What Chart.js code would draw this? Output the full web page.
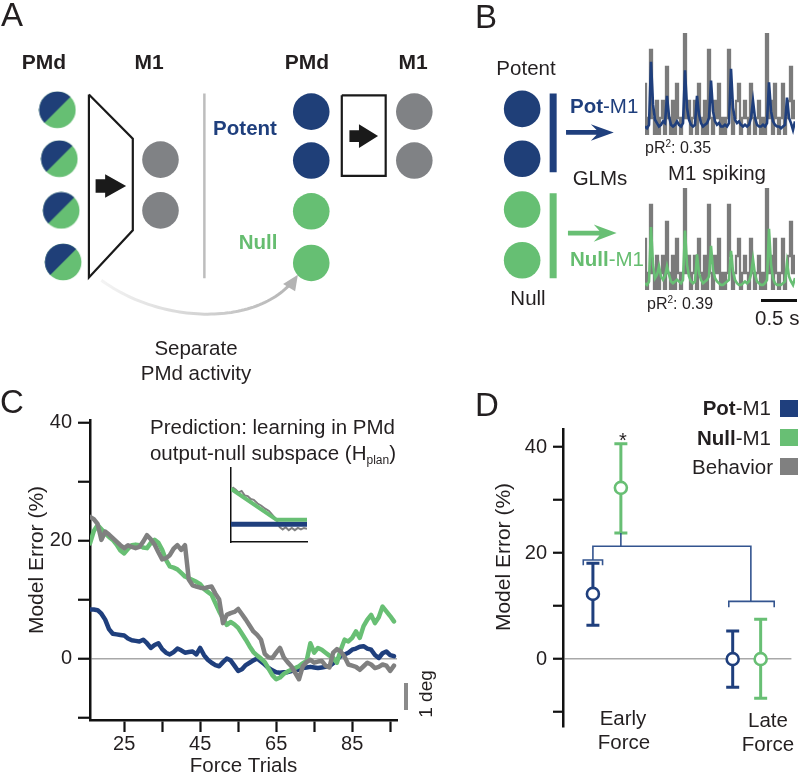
<!DOCTYPE html>
<html>
<head>
<meta charset="utf-8">
<title>PMd output-null learning</title>
<script src="https://cdn.jsdelivr.net/npm/chart.js@4.4.1/dist/chart.umd.min.js"></script>
<style>
html,body{margin:0;padding:0;background:#fff;}
#root{position:relative;width:800px;height:775px;overflow:hidden;font-family:'Liberation Sans',Arial,Helvetica,sans-serif;color:#231f20;}
canvas{position:absolute;}
.t{position:absolute;white-space:nowrap;line-height:1;font-size:20.5px;}
.c{transform:translate(-50%,-50%);}
.l{transform:translate(0,-50%);}
.r{transform:translate(-100%,-50%);}
.v{transform:translate(-50%,-50%) rotate(-90deg);}
.b{font-weight:bold;}
.blue{color:#1f3f7d;}
.green{color:#66bd70;}
.big{font-size:33px;}
.sm{font-size:16px;}
.sw{position:absolute;width:18px;height:17px;}
.bar{position:absolute;}
sub{font-size:12px;vertical-align:-4px;line-height:0;}
sup{font-size:10px;vertical-align:6px;line-height:0;}
</style>
</head>
<body>
<div id="root">
  <canvas id="diag" width="800" height="390" style="left:0;top:0;width:800px;height:390px"></canvas>
  <canvas id="traceTop" width="160" height="115" style="left:640px;top:25px;width:160px;height:115px"></canvas>
  <canvas id="traceBot" width="160" height="115" style="left:640px;top:180px;width:160px;height:115px"></canvas>
  <canvas id="chartC" width="400" height="385" style="left:0;top:390px;width:400px;height:385px"></canvas>
  <canvas id="insetC" width="86" height="88" style="left:226px;top:460px;width:86px;height:88px"></canvas>
  <canvas id="chartD" width="400" height="385" style="left:400px;top:390px;width:400px;height:385px"></canvas>

  <!-- Panel A -->
  <div class="t c big" style="left:12px;top:14px">A</div>
  <div class="t c b" style="left:44px;top:61px;font-size:21px">PMd</div>
  <div class="t c b" style="left:149px;top:61px;font-size:21px">M1</div>
  <div class="t c b" style="left:307px;top:61px;font-size:21px">PMd</div>
  <div class="t c b" style="left:413px;top:61px;font-size:21px">M1</div>
  <div class="t c b blue" style="left:245px;top:128px">Potent</div>
  <div class="t c b green" style="left:258px;top:242px">Null</div>
  <div class="t c" style="left:196px;top:348px">Separate</div>
  <div class="t c" style="left:196px;top:373px">PMd activity</div>

  <!-- Panel B -->
  <div class="t c big" style="left:486px;top:16px">B</div>
  <div class="t c" style="left:526px;top:68px">Potent</div>
  <div class="t l blue" style="left:570px;top:106px"><b>Pot</b>-M1</div>
  <div class="t c" style="left:600px;top:178px">GLMs</div>
  <div class="t c" style="left:717px;top:173px">M1 spiking</div>
  <div class="t l green" style="left:570px;top:259px"><b>Null</b>-M1</div>
  <div class="t c" style="left:528px;top:298px">Null</div>
  <div class="t l sm" style="left:645px;top:148px">pR<sup>2</sup>: 0.35</div>
  <div class="t l sm" style="left:647px;top:304px">pR<sup>2</sup>: 0.39</div>
  <div class="bar" style="left:761px;top:299px;width:36px;height:3px;background:#111"></div>
  <div class="t l" style="left:755px;top:318px">0.5 s</div>

  <!-- Panel C -->
  <div class="t c big" style="left:12px;top:401px">C</div>
  <div class="t r" style="left:395px;top:427px">Prediction: learning in PMd</div>
  <div class="t r" style="left:396px;top:453px">output-null subspace (H<sub>plan</sub>)</div>
  <div class="t v" style="left:35px;top:560px;font-size:21px">Model Error (%)</div>
  <div class="bar" style="left:404px;top:683px;width:4px;height:27px;background:#8a8a8a"></div>
  <div class="t v" style="left:425px;top:694px;font-size:19px">1 deg</div>

  <!-- Panel D -->
  <div class="t c big" style="left:487px;top:404px">D</div>
  <div class="t v" style="left:502px;top:557px;font-size:21px">Model Error (%)</div>
  <div class="t c" style="left:623px;top:440px;font-size:20px">*</div>
  <div class="t r" style="left:771px;top:408px"><b>Pot</b>-M1</div>
  <div class="t r" style="left:771px;top:438px"><b>Null</b>-M1</div>
  <div class="t r" style="left:773px;top:467px">Behavior</div>
  <div class="sw" style="left:780px;top:400px;background:#1f3f7d"></div>
  <div class="sw" style="left:780px;top:429px;background:#68bf74"></div>
  <div class="sw" style="left:780px;top:458px;background:#808080"></div>
  <div class="t c" style="left:623px;top:718px">Early</div>
  <div class="t c" style="left:624px;top:742px">Force</div>
  <div class="t c" style="left:768px;top:720px">Late</div>
  <div class="t c" style="left:768px;top:744px">Force</div>
</div>

<script>
// ================= DATA =================
// Panel C: model error (%) per force trial
const trials = [16,17,18,19,20,21,22,23,24,25,26,27,28,29,30,31,32,33,34,35,36,37,38,39,40,
  41,42,43,44,45,46,47,48,49,50,51,52,53,54,55,56,57,58,59,60,61,62,63,64,65,66,67,68,69,70,
  71,72,73,74,75,76,77,78,79,80,81,82,83,84,85,86,87,88,89,90,91,92,93,94,95,96];
const potM1Error = [8.3,8.3,8.2,7.6,6.6,5.0,4.2,4.1,4.0,3.9,3.4,3.1,3.0,2.9,3.2,2.6,1.8,2.3,2.6,1.6,
  1.0,0.7,1.1,1.7,1.4,1.0,1.1,1.2,0.7,1.8,0.6,-0.2,-0.7,-1.1,-1.3,-0.6,0.0,-0.3,-1.2,-2.1,
  -1.8,-1.1,-0.7,-0.3,0.0,-0.5,-1.0,-1.6,-2.0,-2.3,-2.4,-2.3,-2.3,-2.1,-1.9,-1.9,-1.6,-1.5,-1.4,-1.5,
  -1.6,-1.5,-1.4,-1.3,-0.8,-0.2,0.5,0.7,1.0,1.5,1.7,2.0,2.1,1.7,1.5,0.6,0.1,0.9,1.2,0.6,0.4];
const nullM1Error = [19.5,21.6,22.6,21.9,21.2,20.6,20.1,19.3,18.3,17.8,18.6,19.2,19.3,19.2,18.8,18.7,19.6,20.1,19.6,18.4,
  16.7,15.6,15.4,15.1,14.5,13.9,13.6,13.3,13.0,12.6,11.8,11.3,10.8,9.4,8.0,6.8,5.7,6.2,5.8,5.2,
  4.2,3.2,2.1,1.1,0.5,0.0,-0.6,-1.7,-2.8,-3.5,-3.2,-2.6,-2.2,-1.9,-1.6,-1.3,-0.8,-0.4,2.6,1.0,
  1.8,1.5,1.0,0.5,0.1,-0.7,1.5,3.2,2.9,3.5,4.6,3.5,5.5,6.6,7.4,6.0,7.0,8.8,8.0,7.2,6.3];
const behaviorError = [24.0,23.6,22.8,20.1,21.5,21.0,20.4,19.8,19.2,18.7,19.2,18.9,18.7,18.9,19.8,20.9,20.2,19.3,18.0,16.8,
  17.0,17.5,18.6,19.2,18.4,19.2,13.4,12.4,12.2,12.0,11.9,12.1,12.2,11.0,10.0,6.0,7.4,7.7,7.9,8.4,
  7.5,6.6,5.6,4.6,4.0,3.2,0.8,0.2,0.1,1.0,1.8,0.2,-0.6,-1.3,-2.4,-3.5,-1.3,-0.6,-0.2,-0.7,
  -0.5,-0.4,-1.2,-1.5,1.0,1.6,1.2,0.3,-1.0,-1.2,-1.4,-1.9,-1.3,-0.7,-1.0,-1.6,-1.4,-1.0,-1.2,-2.1,-1.2];
const cXTicks = [25,35,45,55,65,75,85,95];
const cXLabels = [25,45,65,85];
const cYTicks = [-10,0,10,20,30,40];
const cYLabels = [0,20,40];

// Panel C inset: schematic prediction
const insetX = [0, 0.6, 1];
const insetNull = [0.72, 0.30, 0.30];
const insetPot = [0.24, 0.24, 0.24];
const insetBehX = [0.02,0.06,0.1,0.14,0.18,0.22,0.26,0.3,0.35,0.4,0.45,0.5,0.55,0.6,0.64,0.68,0.72,0.76,0.8,0.84,0.88,0.92,0.96,1.0];
const insetBeh = [0.74,0.71,0.67,0.69,0.63,0.62,0.58,0.57,0.52,0.49,0.45,0.42,0.36,0.3,0.2,0.17,0.2,0.16,0.19,0.16,0.19,0.17,0.19,0.18];

// Panel D: model error (%) by epoch
const dGroups = ['Early Force', 'Late Force'];
const potMean = [12.3, 0.0], potLow = [6.4, -5.3], potHigh = [18.1, 5.3];
const nullMean = [32.3, 0.0], nullLow = [23.8, -7.4], nullHigh = [40.6, 7.5];
const dYTicks = [-10,0,10,20,30,40];
const dYLabels = [0,20,40];
// significance bracket (group units, %), null entries break the line
const bracketX = [0.731,0.731,0.869,0.869,null, 0.8,0.8,1.93,1.93,null, 1.0,1.0,null, 1.772,1.772,2.097,2.097];
const bracketY = [17.7,18.7,18.7,17.7,null, 18.7,21.3,21.3,10.9,null, 21.3,23.8,null, 9.8,10.9,10.9,9.8];

// Panel B: M1 spike counts (binned) and GLM predictions
const m1Spikes = [3,0,1,5,1,0,2,0,1,2, 0,4,1,0,2,0,3,1,0,1, 6,1,2,0,1,2,0,3,1,0, 2,0,5,1,0,2,1,3,0,1,
  0,1,5,2,0,1,2,3,0,1, 2,1,0,3,1,0,1,2,0,1, 0,6,1,2,0,3,1,0,1,3, 0,1,2,4,1,2];
const potPrediction = [0.5,0.4,0.6,4.3,1.8,0.9,0.7,0.5,0.6,0.8, 0.7,2.3,1.1,0.6,0.5,0.6,0.8,0.6,0.5,0.7,
  3.8,1.6,0.9,0.6,0.5,0.6,2.3,1.2,0.7,0.5, 0.6,0.7,1.0,3.2,1.4,0.8,0.6,0.7,0.5,0.5,
  0.6,0.5,0.7,3.9,1.6,0.9,0.7,0.8,0.6,0.5, 0.6,0.5,0.6,1.0,2.0,1.0,0.6,0.5,0.5,0.6,
  0.5,0.7,3.1,1.4,0.8,0.6,0.5,0.5,0.4,0.5, 0.6,2.2,1.0,0.7,0.3,0.8];
const nullPrediction = [0.4,0.3,0.5,3.7,1.5,0.7,0.9,1.4,0.8,0.6, 0.8,1.4,0.9,0.5,0.4,0.5,0.6,0.5,0.4,0.6,
  3.5,1.5,0.8,0.5,0.4,0.5,2.1,1.0,0.6,0.4, 0.5,0.6,0.8,2.6,1.2,0.7,0.5,0.4,0.3,0.3,
  0.4,0.5,0.6,2.3,1.1,0.6,0.4,0.3,0.3,0.4, 0.5,0.4,0.5,0.9,1.8,0.9,0.5,0.4,0.3,0.3,
  0.4,0.6,3.6,1.5,0.7,0.4,0.3,0.3,0.3,0.4, 0.5,1.6,0.8,0.5,0.3,0.7];

// Panels A/B schematic layout (diagram units)
const mixedNodes = [[41,101],[43,155],[45,212],[47,269]];
const m1NodesA = [[149,156],[149,212]];
const potentNodesA = [[307,103],[307,157]];
const nullNodesA = [[307,213],[307,270]];
const m1NodesA2 = [[415,103],[415,157]];
const potentNodesB = [[528,100],[528,155]];
const nullNodesB = [[528,211],[528,267]];
const trapezoid = [[74,84],[120,133],[120,234],[74,286],[74,84]];
const mapBox = [[339,85],[385,85],[385,174],[339,174],[339,85]];
const divider = [[195,83],[195,287]];
const potBar = [[560.5,83],[560.5,170]];
const nullBar = [[560.5,193],[560.5,287]];
const blockArrows = [[81,185,91,113,7.5,13],[347,130,357,377,6.5,13]];
const sweptArrows = [[574,126,600,606,624,2.6,9,'#1f3f7d'],[576,237,603,609,627,2.6,9.5,'#68bf74']];
const separateArrow = [[87,289],[150,338],[255,342],[293,283]];

// ================= STYLE =================
const BLUE = '#1f3f7d', GREEN = '#68bf74', GRAY = '#808080';
const NODE_BLUE = '#1f3f78', NODE_GREEN = '#66bf73', NODE_GRAY = '#808285';
Chart.defaults.font.family = "'Liberation Sans', Arial, Helvetica, sans-serif";
Chart.defaults.color = '#231f20';
Chart.defaults.animation = false;
Chart.defaults.events = [];
Chart.defaults.plugins.legend.display = false;
Chart.defaults.plugins.tooltip.enabled = false;

const pts = arr => arr.map(([x,y]) => ({x, y}));

function mixedDisc() {
  const c = document.createElement('canvas');
  c.width = 38; c.height = 38;
  const g = c.getContext('2d');
  g.beginPath(); g.arc(19,19,18.3,0,Math.PI*2); g.clip();
  g.fillStyle = NODE_GREEN; g.fillRect(0,0,38,38);
  g.fillStyle = NODE_BLUE;
  g.beginPath(); g.moveTo(0,0); g.lineTo(38,0); g.lineTo(0,38); g.closePath(); g.fill();
  return c;
}

// ================= PANELS A & B (schematic) =================
const diagramDecor = {
  id: 'diagramDecor',
  afterDatasetsDraw(chart) {
    const ctx = chart.ctx;
    const X = v => chart.scales.x.getPixelForValue(v);
    const Y = v => chart.scales.y.getPixelForValue(v);
    ctx.save();
    ctx.fillStyle = '#1a1a1a';
    blockArrows.forEach(([tail, y, neck, tip, sh, hh]) => {
      ctx.beginPath();
      ctx.moveTo(X(tail), Y(y - sh)); ctx.lineTo(X(neck), Y(y - sh)); ctx.lineTo(X(neck), Y(y - hh));
      ctx.lineTo(X(tip), Y(y)); ctx.lineTo(X(neck), Y(y + hh)); ctx.lineTo(X(neck), Y(y + sh));
      ctx.lineTo(X(tail), Y(y + sh)); ctx.closePath(); ctx.fill();
    });
    sweptArrows.forEach(([tail, y, barb, notch, tip, sh, bh, col]) => {
      ctx.fillStyle = col;
      ctx.beginPath();
      ctx.moveTo(X(tail), Y(y - sh)); ctx.lineTo(X(notch), Y(y - sh)); ctx.lineTo(X(barb), Y(y - bh));
      ctx.lineTo(X(tip), Y(y)); ctx.lineTo(X(barb), Y(y + bh)); ctx.lineTo(X(notch), Y(y + sh));
      ctx.lineTo(X(tail), Y(y + sh)); ctx.closePath(); ctx.fill();
    });
    // curved "separate" arrow
    const [p0, c1, c2, p3] = separateArrow;
    const bez = (t, k) => { const u = 1 - t; return u*u*u*p0[k] + 3*u*u*t*c1[k] + 3*u*t*t*c2[k] + t*t*t*p3[k]; };
    const grad = ctx.createLinearGradient(X(p0[0]), 0, X(p3[0]), 0);
    grad.addColorStop(0, '#f4f4f4'); grad.addColorStop(1, '#b3b3b3');
    ctx.strokeStyle = grad; ctx.lineWidth = 3; ctx.lineCap = 'butt';
    ctx.beginPath();
    for (let i = 0; i <= 60; i++) {
      const t = i / 60 * 0.93;
      const px = X(bez(t,0)), py = Y(bez(t,1));
      if (i === 0) ctx.moveTo(px, py); else ctx.lineTo(px, py);
    }
    ctx.stroke();
    let dx = p3[0] - c2[0], dy = p3[1] - c2[1];
    const L = Math.hypot(dx, dy); dx /= L; dy /= L;
    const hl = 17, hw = 7.5;
    const bx = p3[0] - dx*hl, by = p3[1] - dy*hl;
    ctx.fillStyle = '#b3b3b3';
    ctx.beginPath();
    ctx.moveTo(X(p3[0]), Y(p3[1]));
    ctx.lineTo(X(bx - dy*hw), Y(by + dx*hw));
    ctx.lineTo(X(bx + dy*hw), Y(by - dx*hw));
    ctx.closePath(); ctx.fill();
    ctx.restore();
  }
};

const node = (arr, style, color) => ({
  data: pts(arr), pointRadius: 18.3, pointStyle: style, pointBackgroundColor: color,
  pointBorderWidth: 0, borderWidth: 0, showLine: false
});
const seg = (arr, color, w) => ({
  data: pts(arr), showLine: true, borderColor: color, borderWidth: w, pointRadius: 0,
  borderJoinStyle: 'miter', borderCapStyle: 'butt', tension: 0
});

new Chart(document.getElementById('diag'), {
  type: 'scatter',
  data: { datasets: [
    node(mixedNodes, mixedDisc(), NODE_BLUE),
    node(m1NodesA, 'circle', NODE_GRAY),
    node(potentNodesA, 'circle', NODE_BLUE),
    node(nullNodesA, 'circle', NODE_GREEN),
    node(m1NodesA2, 'circle', NODE_GRAY),
    node(potentNodesB, 'circle', NODE_BLUE),
    node(nullNodesB, 'circle', NODE_GREEN),
    seg(trapezoid, '#1a1a1a', 2.2),
    seg(mapBox, '#1a1a1a', 2.2),
    seg(divider, '#bdbdbd', 2.5),
    seg(potBar, BLUE, 7),
    seg(nullBar, GREEN, 7)
  ]},
  options: {
    responsive: false,
    layout: { padding: 0 },
    scales: {
      x: { type: 'linear', min: 0, max: 800, display: false },
      y: { type: 'linear', min: 0, max: 390, reverse: true, display: false }
    }
  },
  plugins: [diagramDecor]
});

function traceChart(id, pred, color) {
  new Chart(document.getElementById(id), {
    type: 'line',
    data: { datasets: [
      { data: pred.map((v,i) => ({x:i, y:v})), borderColor: color, borderWidth: 2.6, pointRadius: 0, tension: 0 },
      { data: m1Spikes.map((v,i) => ({x:i, y:v})), borderColor: '#7b7b7b', borderWidth: 2.3, pointRadius: 0, stepped: 'middle' }
    ]},
    options: {
      responsive: false,
      layout: { padding: { left: 5, right: 5, top: 8, bottom: 5 } },
      scales: {
        x: { type: 'linear', min: 0, max: 75, display: false },
        y: { type: 'linear', min: 0, max: 6, display: false }
      }
    }
  });
}
traceChart('traceTop', potPrediction, BLUE);
traceChart('traceBot', nullPrediction, GREEN);

// ================= PANEL C =================
const cLine = (vals, color) => ({
  data: trials.map((t,i) => ({x:t, y:vals[i]})), borderColor: color, borderWidth: 4.5,
  pointRadius: 0, tension: 0, borderJoinStyle: 'round', borderCapStyle: 'round'
});
new Chart(document.getElementById('chartC'), {
  type: 'line',
  data: { datasets: [ cLine(behaviorError, GRAY), cLine(nullM1Error, GREEN), cLine(potM1Error, BLUE) ] },
  options: {
    responsive: false,
    layout: { padding: { left: 0, top: 30, right: 3, bottom: 0 } },
    scales: {
      x: {
        type: 'linear', min: 16, max: 96.8,
        afterBuildTicks: s => { s.ticks = cXTicks.map(v => ({value: v})); },
        afterFit: s => { s.height = 55; },
        ticks: { autoSkip: false, maxRotation: 0, padding: 0, font: { size: 20 }, color: '#231f20',
                 callback: v => cXLabels.includes(v) ? String(v) : '' },
        grid: { drawOnChartArea: false, drawTicks: true, tickLength: 12, tickColor: '#111', tickWidth: 2.2 },
        border: { display: true, color: '#111', width: 2.5 },
        title: { display: true, text: 'Force Trials', font: { size: 20.5, lineHeight: 0.8 }, padding: { top: 0, bottom: 0 }, color: '#231f20' }
      },
      y: {
        type: 'linear', min: -10.4, max: 40.4,
        afterBuildTicks: s => { s.ticks = cYTicks.map(v => ({value: v})); },
        afterFit: s => { s.width = 90; },
        ticks: { padding: 6, font: { size: 20 }, color: '#231f20',
                 callback: v => cYLabels.includes(v) ? String(v) : '' },
        grid: { drawOnChartArea: true, color: c => (c.tick && c.tick.value === 0) ? '#a8a8a8' : 'rgba(0,0,0,0)',
                lineWidth: 1.5, tickLength: 12, tickColor: '#111', tickWidth: 2.2 },
        border: { display: true, color: '#111', width: 2.5 }
      }
    }
  }
});

new Chart(document.getElementById('insetC'), {
  type: 'scatter',
  data: { datasets: [
    { data: insetX.map((x,i) => ({x, y: insetNull[i]})), showLine: true, borderColor: GREEN, borderWidth: 4, pointRadius: 0 },
    { data: insetX.map((x,i) => ({x, y: insetPot[i]})), showLine: true, borderColor: BLUE, borderWidth: 5, pointRadius: 0 },
    { data: insetBehX.map((x,i) => ({x, y: insetBeh[i]})), showLine: true, borderColor: GRAY, borderWidth: 2, pointRadius: 0 }
  ]},
  options: {
    responsive: false,
    layout: { padding: { left: 5, top: 8, right: 5, bottom: 6 } },
    scales: {
      x: { type: 'linear', min: 0, max: 1, ticks: { display: false }, grid: { display: false },
           border: { display: true, color: '#111', width: 1.5 }, afterFit: s => { s.height = 0; } },
      y: { type: 'linear', min: 0, max: 1, ticks: { display: false }, grid: { display: false },
           border: { display: true, color: '#111', width: 1.5 }, afterFit: s => { s.width = 0; } }
    }
  }
});

// ================= PANEL D =================
const errorBars = {
  id: 'errorBars',
  beforeDatasetsDraw(chart) {
    const ctx = chart.ctx, ys = chart.scales.y;
    chart.data.datasets.forEach((ds, di) => {
      if (!ds.errLow) return;
      const meta = chart.getDatasetMeta(di);
      meta.data.forEach((pt, i) => {
        const y1 = ys.getPixelForValue(ds.errLow[i]), y2 = ys.getPixelForValue(ds.errHigh[i]);
        ctx.save();
        ctx.strokeStyle = ds.borderColor; ctx.lineWidth = 3; ctx.lineCap = 'butt';
        ctx.beginPath();
        ctx.moveTo(pt.x, y1); ctx.lineTo(pt.x, y2);
        ctx.moveTo(pt.x - 6.5, y1); ctx.lineTo(pt.x + 6.5, y1);
        ctx.moveTo(pt.x - 6.5, y2); ctx.lineTo(pt.x + 6.5, y2);
        ctx.stroke();
        ctx.restore();
      });
    });
  }
};

new Chart(document.getElementById('chartD'), {
  type: 'scatter',
  data: { datasets: [
    { label: 'Pot-M1', data: dGroups.map((g,i) => ({x: i + 1 - 0.2, y: potMean[i]})),
      errLow: potLow, errHigh: potHigh, borderColor: BLUE, pointBorderColor: BLUE,
      pointBackgroundColor: '#fff', pointRadius: 6, pointBorderWidth: 2.6 },
    { label: 'Null-M1', data: dGroups.map((g,i) => ({x: i + 1, y: nullMean[i]})),
      errLow: nullLow, errHigh: nullHigh, borderColor: GREEN, pointBorderColor: GREEN,
      pointBackgroundColor: '#fff', pointRadius: 6, pointBorderWidth: 2.6 },
    { label: 'bracket', data: bracketX.map((x,i) => ({x, y: bracketY[i]})), showLine: true,
      spanGaps: false, borderColor: '#33548f', borderWidth: 1.6, pointRadius: 0, tension: 0 }
  ]},
  options: {
    responsive: false,
    layout: { padding: { left: 0, top: 39, right: 0, bottom: 48 } },
    scales: {
      x: { type: 'linear', min: 0.586, max: 2.22, display: false },
      y: {
        type: 'linear', min: -12.8, max: 43.4,
        afterBuildTicks: s => { s.ticks = dYTicks.map(v => ({value: v})); },
        afterFit: s => { s.width = 163; },
        ticks: { padding: 6, font: { size: 20 }, color: '#231f20',
                 callback: v => dYLabels.includes(v) ? String(v) : '' },
        grid: { drawOnChartArea: true, color: c => (c.tick && c.tick.value === 0) ? '#a8a8a8' : 'rgba(0,0,0,0)',
                lineWidth: 1.5, tickLength: 10, tickColor: '#111', tickWidth: 2.2 },
        border: { display: true, color: '#111', width: 2.5 }
      }
    }
  },
  plugins: [errorBars]
});
</script>
</body>
</html>
